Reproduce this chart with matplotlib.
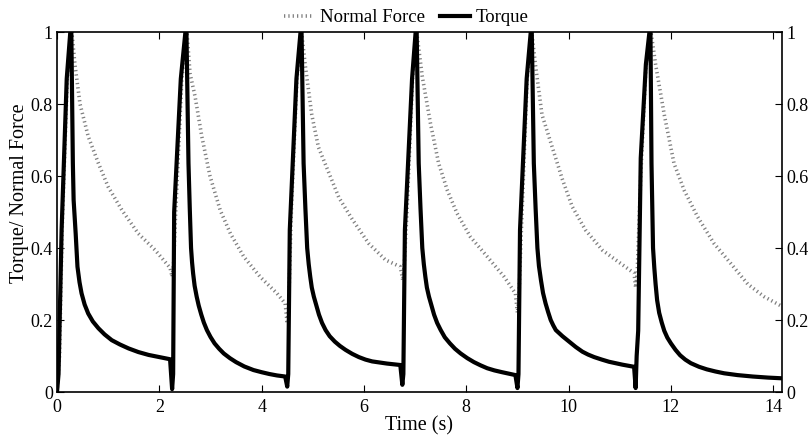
import matplotlib
matplotlib.use("Agg")
import matplotlib.pyplot as plt

# values (time in s, normalised torque / normal force)
torque_t = [0.00, 0.03, 0.09, 0.19, 0.26, 0.28, 0.31, 0.325, 0.365, 0.40, 0.44, 0.48, 0.54, 0.61, 0.70, 0.81, 0.93, 1.07, 1.23, 1.40, 1.59, 1.79, 2.00, 2.21,
            2.25, 2.27, 2.29, 2.42, 2.51,
            2.53, 2.57, 2.595, 2.62, 2.64, 2.66, 2.69, 2.73, 2.77, 2.82, 2.87, 2.93, 3.00, 3.08, 3.17, 3.26, 3.38, 3.50, 3.66, 3.84, 4.00, 4.15, 4.30, 4.46,
            4.50, 4.52, 4.55, 4.68, 4.76,
            4.78, 4.82, 4.855, 4.89, 4.92, 4.95, 4.98, 5.02, 5.07, 5.12, 5.18, 5.25, 5.33, 5.43, 5.53, 5.64, 5.77, 5.90, 6.03, 6.16, 6.30, 6.45, 6.58, 6.71,
            6.75, 6.77, 6.80, 6.94, 7.01,
            7.03, 7.07, 7.105, 7.14, 7.17, 7.20, 7.23, 7.27, 7.32, 7.37, 7.43, 7.50, 7.58, 7.68, 7.78, 7.89, 8.02, 8.15, 8.28, 8.41, 8.55, 8.70, 8.83, 8.96,
            9.00, 9.02, 9.05, 9.18, 9.26,
            9.28, 9.32, 9.355, 9.39, 9.42, 9.46, 9.50, 9.55, 9.60, 9.65, 9.70, 9.75, 9.82, 9.88, 9.95, 10.01, 10.14, 10.27, 10.38, 10.50, 10.65, 10.79, 10.92, 11.05, 11.17, 11.28,
            11.31, 11.33, 11.36, 11.41, 11.51, 11.58,
            11.60, 11.62, 11.635, 11.65, 11.675, 11.70, 11.73, 11.77, 11.82, 11.87, 11.93, 12.00, 12.09, 12.18, 12.28, 12.39, 12.55, 12.70, 12.87, 13.04, 13.30, 13.60, 13.90, 14.18]
torque_v = [0.00, 0.05, 0.45, 0.87, 1.00, 1.00, 0.635, 0.533, 0.44, 0.348, 0.305, 0.274, 0.243, 0.218, 0.196, 0.177, 0.160, 0.144, 0.132, 0.121, 0.111, 0.103, 0.097, 0.091,
            0.008, 0.05, 0.50, 0.87, 1.00,
            1.00, 0.635, 0.51, 0.40, 0.36, 0.33, 0.295, 0.265, 0.24, 0.215, 0.193, 0.172, 0.153, 0.135, 0.12, 0.107, 0.094, 0.083, 0.071, 0.061, 0.055, 0.050, 0.046, 0.043,
            0.015, 0.05, 0.45, 0.87, 1.00,
            1.00, 0.635, 0.51, 0.40, 0.355, 0.32, 0.29, 0.265, 0.24, 0.215, 0.192, 0.172, 0.155, 0.140, 0.128, 0.117, 0.106, 0.097, 0.090, 0.085, 0.082, 0.079, 0.077, 0.075,
            0.020, 0.05, 0.45, 0.87, 1.00,
            1.00, 0.635, 0.51, 0.40, 0.355, 0.32, 0.29, 0.265, 0.24, 0.215, 0.192, 0.172, 0.152, 0.135, 0.12, 0.107, 0.094, 0.083, 0.074, 0.066, 0.060, 0.055, 0.051, 0.047,
            0.011, 0.05, 0.45, 0.87, 1.00,
            1.00, 0.635, 0.51, 0.40, 0.35, 0.31, 0.275, 0.246, 0.222, 0.200, 0.185, 0.172, 0.163, 0.155, 0.147, 0.140, 0.125, 0.112, 0.104, 0.097, 0.090, 0.084, 0.080, 0.076, 0.073, 0.070,
            0.011, 0.10, 0.17, 0.65, 0.91, 1.00,
            1.00, 0.635, 0.51, 0.40, 0.345, 0.30, 0.255, 0.22, 0.193, 0.17, 0.151, 0.135, 0.117, 0.102, 0.090, 0.080, 0.070, 0.063, 0.057, 0.052, 0.047, 0.043, 0.040, 0.038]

normal_t = [0.00, 0.05, 0.10, 0.20, 0.29, 0.35, 0.45, 0.61, 0.81, 1.00, 1.27, 1.59, 1.92, 2.21,
            2.25, 2.28, 2.32, 2.44, 2.54,
            2.60, 2.70, 2.83, 2.99, 3.19, 3.39, 3.65, 3.97, 4.30, 4.46,
            4.50, 4.53, 4.58, 4.69, 4.78,
            4.85, 4.98, 5.11, 5.31, 5.51, 5.77, 6.09, 6.42, 6.71,
            6.76, 6.79, 6.84, 6.95, 7.03,
            7.14, 7.30, 7.46, 7.63, 7.82, 8.08, 8.41, 8.74, 8.96,
            9.00, 9.03, 9.09, 9.19, 9.28,
            9.35, 9.48, 9.68, 9.88, 10.07, 10.33, 10.66, 10.92, 11.28,
            11.31, 11.34, 11.41, 11.51, 11.61,
            11.70, 11.87, 12.06, 12.26, 12.52, 12.84, 13.17, 13.50, 13.82, 14.18]
normal_v = [0.00, 0.10, 0.45, 0.87, 1.00, 0.91, 0.80, 0.71, 0.635, 0.57, 0.505, 0.44, 0.394, 0.345,
            0.32, 0.36, 0.50, 0.87, 1.00,
            0.885, 0.82, 0.71, 0.60, 0.505, 0.44, 0.376, 0.32, 0.274, 0.246,
            0.19, 0.25, 0.50, 0.87, 1.00,
            0.91, 0.77, 0.68, 0.61, 0.54, 0.48, 0.413, 0.367, 0.348,
            0.31, 0.36, 0.50, 0.87, 1.00,
            0.876, 0.746, 0.635, 0.56, 0.496, 0.431, 0.376, 0.32, 0.274,
            0.22, 0.27, 0.50, 0.87, 1.00,
            0.91, 0.77, 0.68, 0.59, 0.515, 0.45, 0.394, 0.367, 0.33,
            0.29, 0.33, 0.60, 0.90, 1.00,
            0.91, 0.77, 0.635, 0.56, 0.487, 0.413, 0.357, 0.30, 0.265, 0.237]

x_ticks = [0, 2, 4, 6, 8, 10, 12, 14]
y_ticks = [0, 0.2, 0.4, 0.6, 0.8, 1]
y_labels = ["0", "0.2", "0.4", "0.6", "0.8", "1"]

plt.rcParams["font.family"] = ["Liberation Serif", "DejaVu Serif"]

fig = plt.figure(figsize=(8.12, 4.36), dpi=100)
ax = fig.add_axes([0.0702, 0.1009, 0.8928, 0.8257])

ax.plot(normal_t, normal_v, color="0.5", lw=2.6, dashes=(0.35, 0.85),
        dash_capstyle="butt", label="Normal Force", zorder=2)
ax.plot(torque_t, torque_v, color="black", lw=3.0, solid_joinstyle="round",
        label="Torque", zorder=3)

ax.set_xlim(0, 14.17)
ax.set_ylim(0, 1)
ax.set_xticks(x_ticks)
ax.set_yticks(y_ticks)
ax.set_yticklabels(y_labels)
ax.tick_params(direction="in", top=True, right=True, labelright=True,
               length=5, width=0.8, labelsize=13)
ax.tick_params(axis="x", pad=5)
ax.tick_params(axis="y", pad=3)
for s in ax.spines.values():
    s.set_linewidth(1.2)

ax.set_xlabel("Time (s)", fontsize=14.5, labelpad=0)
ax.set_ylabel("Torque/ Normal Force", fontsize=14.5)
ax.yaxis.set_label_coords(-0.039, 0.553)

ax.legend(loc="center", bbox_to_anchor=(0.482, 1.040), ncol=2, frameon=False,
          fontsize=13.5, handlelength=1.6, handletextpad=0.3, columnspacing=0.8,
          borderpad=0, borderaxespad=0)

fig.savefig("out.png", dpi=100)
